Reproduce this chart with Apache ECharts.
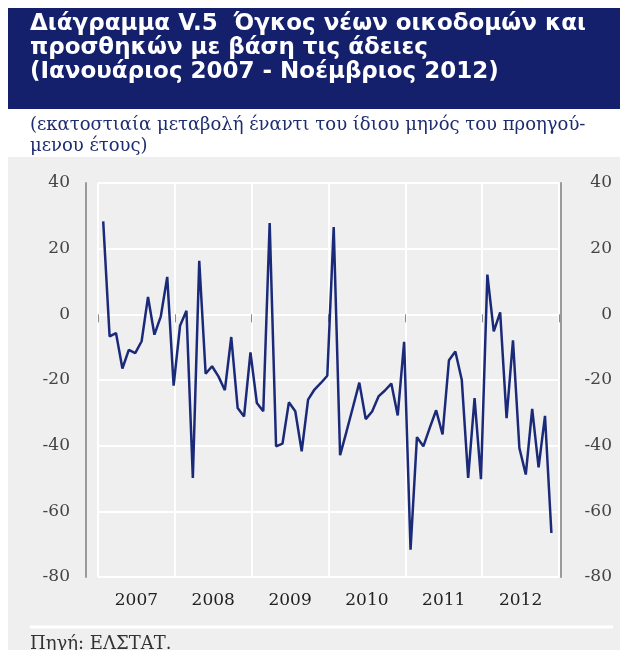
<!DOCTYPE html>
<html>
<head>
<meta charset="utf-8">
<title>Διάγραμμα V.5</title>
<script src="https://cdn.jsdelivr.net/npm/echarts@6/dist/echarts.min.js"></script>
<style>
  html, body { margin: 0; padding: 0; background: #fff; }
  #chart { width: 620px; height: 650px; }
</style>
</head>
<body>
<div id="chart"></div>
<script>
// ετήσια ετικέτες του άξονα
const years = ['2007', '2008', '2009', '2010', '2011', '2012']

// μήνες Ιαν. 2007 - Δεκ. 2012 (ο Δεκ. 2012 χωρίς τιμή)
const months = []
years.forEach(y => {
  for (let m = 1; m <= 12; m++) months.push(y + '-' + m)
})

// εκατοστιαία μεταβολή, ανά έτος
const v2007 = [28.3, -6.7, -5.7, -16.5, -10.8, -11.8, -8.2, 5.3, -6.2, -0.6, 11.4, -21.7]
const v2008 = [-3.5, 1.1, -49.8, 16.3, -18.1, -15.8, -18.9, -23.1, -6.9, -28.5, -31.1, -11.6]
const v2009 = [-27.0, -29.5, 27.8, -40.2, -39.4, -26.8, -29.5, -41.7, -26.0, -22.9, -20.9, -18.7]
const v2010 = [26.6, -42.9, -35.7, -28.3, -20.8, -31.9, -29.6, -25.0, -23.2, -21.1, -30.8, -8.4]
const v2011 = [-71.7, -37.4, -40.2, -34.6, -29.2, -36.6, -14.0, -11.3, -19.9, -49.8, -25.5, -50.2]
const v2012 = [12.1, -5.2, 0.6, -31.6, -7.9, -40.7, -48.8, -28.8, -46.6, -30.9, -66.6]

const values = [].concat(v2007, v2008, v2009, v2010, v2011, v2012)

const yMin = -80
const yMax = 40
const yStep = 20

const navy = '#14206b'
const lineColor = '#1b2a78'
const serif = '"DejaVu Serif", "Liberation Serif", serif'

const chart = echarts.init(document.getElementById('chart'))

const option = {
  animation: false,
  backgroundColor: '#ffffff',
  graphic: [
    {
      type: 'rect',
      shape: { x: 8, y: 8, width: 612, height: 101 },
      style: { fill: navy },
      z: -10
    },
    {
      type: 'rect',
      shape: { x: 8, y: 157, width: 612, height: 493 },
      style: { fill: '#efefef' },
      z: -10
    },
    {
      type: 'text',
      left: 30,
      top: 12,
      style: {
        text: 'Διάγραμμα V.5  Όγκος νέων οικοδομών και\nπροσθηκών με βάση τις άδειες\n(Ιανουάριος 2007 - Νοέμβριος 2012)',
        fill: '#ffffff',
        font: 'bold 23px "DejaVu Sans", sans-serif',
        lineHeight: 24
      }
    },
    {
      type: 'text',
      left: 30,
      top: 115,
      style: {
        text: '(εκατοστιαία μεταβολή έναντι του ίδιου μηνός του προηγού-\nμενου έτους)',
        fill: '#1e2c70',
        font: '18px ' + serif,
        lineHeight: 21
      }
    },
    {
      type: 'line',
      shape: { x1: 30, y1: 627, x2: 613, y2: 627 },
      style: { stroke: '#ffffff', lineWidth: 3 }
    },
    {
      type: 'text',
      left: 30,
      top: 635,
      style: {
        text: 'Πηγή: ΕΛΣΤΑΤ.',
        fill: '#333333',
        font: '18px ' + serif
      }
    }
  ],
  grid: [
    { left: 98, right: 61, top: 183, bottom: 73 },
    { left: 100, right: 59, top: 183, bottom: 73 }
  ],
  xAxis: [
    {
      type: 'category',
      gridIndex: 0,
      data: years,
      boundaryGap: true,
      axisLine: { show: false },
      axisTick: { show: true, length: 8, lineStyle: { color: '#8a8a8a', width: 1 } },
      axisLabel: { color: '#222222', fontFamily: serif, fontSize: 17, margin: 15 },
      splitLine: { show: true, lineStyle: { color: '#ffffff', width: 2 } }
    },
    {
      type: 'category',
      gridIndex: 1,
      data: months,
      boundaryGap: true,
      show: false
    }
  ],
  yAxis: [
    {
      type: 'value',
      gridIndex: 0,
      position: 'left',
      min: yMin,
      max: yMax,
      interval: yStep,
      offset: 12,
      axisLine: { show: true, lineStyle: { color: '#9a9a9a', width: 2 } },
      axisTick: { show: false },
      axisLabel: { color: '#444444', fontFamily: serif, fontSize: 17, margin: 16 },
      splitLine: { show: true, lineStyle: { color: '#ffffff', width: 2 } }
    },
    {
      type: 'value',
      gridIndex: 0,
      position: 'right',
      min: yMin,
      max: yMax,
      interval: yStep,
      offset: 2,
      axisLine: { show: true, lineStyle: { color: '#9a9a9a', width: 2 } },
      axisTick: { show: false },
      axisLabel: { color: '#444444', fontFamily: serif, fontSize: 17, margin: 51, align: 'right' },
      splitLine: { show: false }
    },
    {
      type: 'value',
      gridIndex: 1,
      min: yMin,
      max: yMax,
      interval: yStep,
      show: false
    }
  ],
  series: [
    {
      type: 'line',
      xAxisIndex: 1,
      yAxisIndex: 2,
      data: values,
      symbol: 'none',
      lineStyle: { color: lineColor, width: 2.5 },
      z: 5
    }
  ]
}

chart.setOption(option)
</script>
</body>
</html>
